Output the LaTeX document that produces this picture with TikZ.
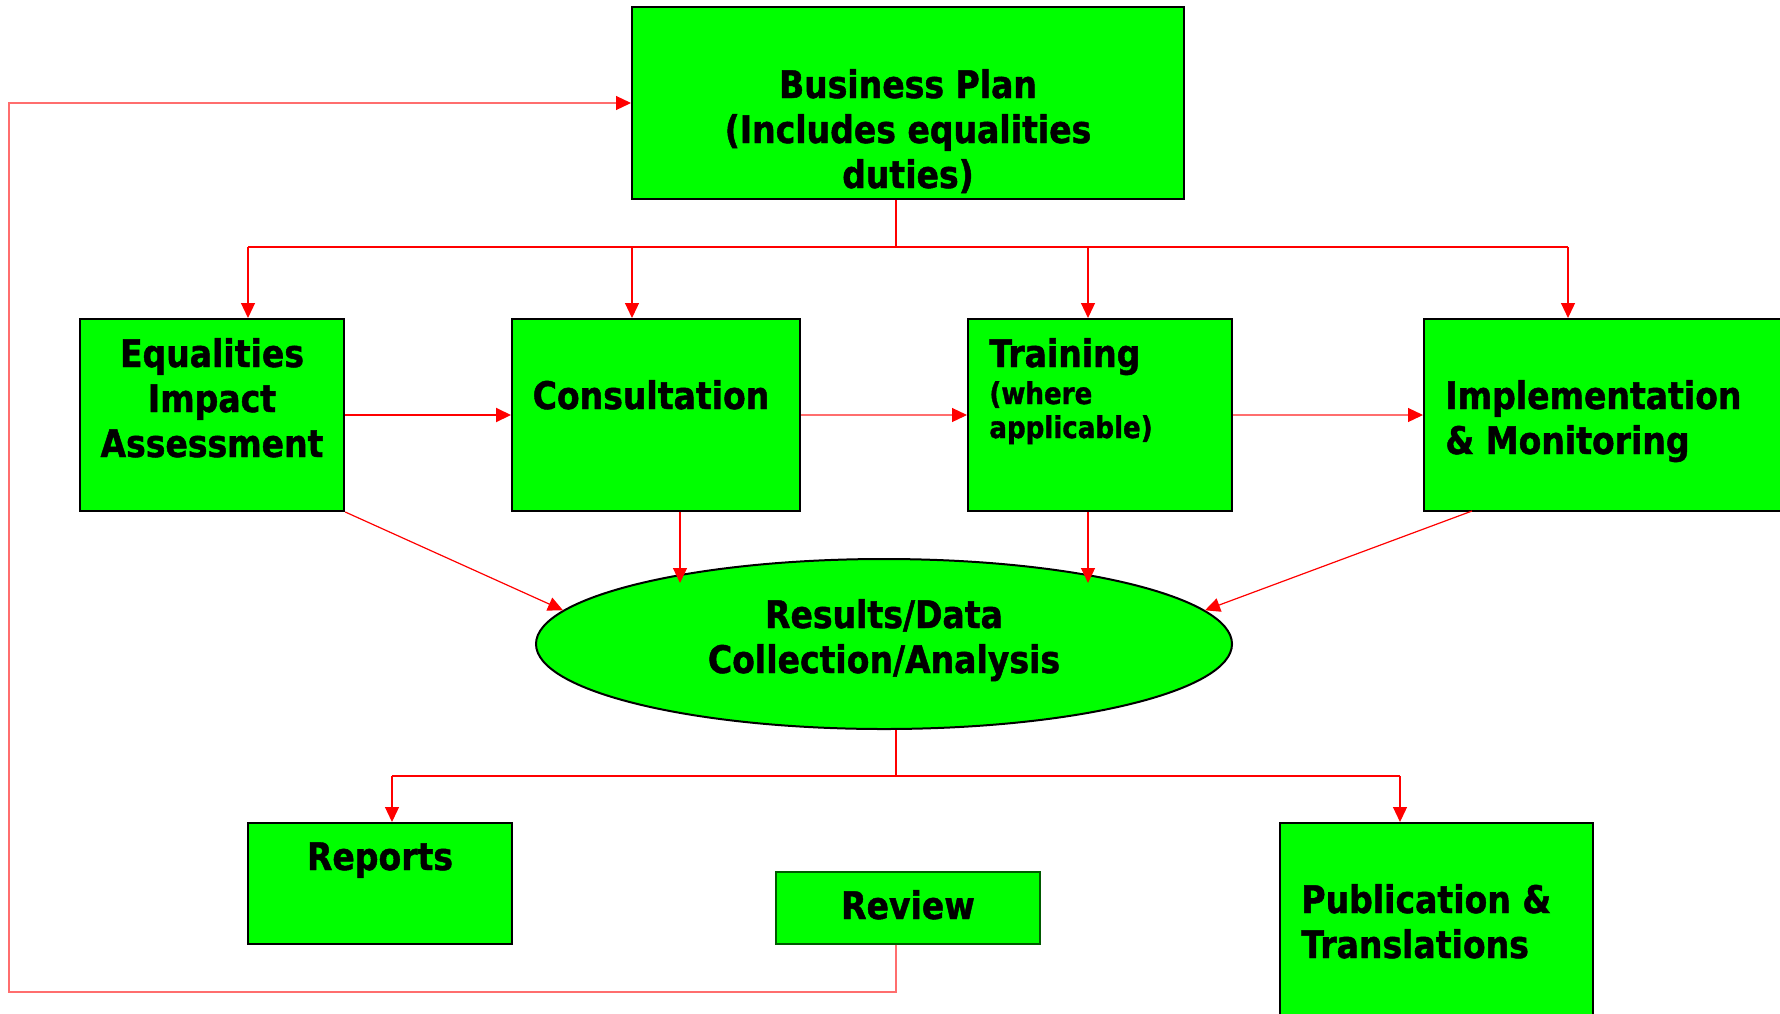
\documentclass[tikz,border=0pt]{standalone}
\usepackage{fontspec}
\setmainfont{DejaVu Sans}[FakeStretch=0.87,BoldFeatures={FakeBold=1.2}]
\usetikzlibrary{arrows.meta,shapes.geometric}
\definecolor{gfill}{RGB}{0,255,0}
\definecolor{lred}{RGB}{255,110,110}
\definecolor{dgreen}{RGB}{0,90,0}
\newcommand{\mlc}[1]{\begin{tabular}[t]{@{}c@{}}#1\end{tabular}}
\newcommand{\mll}[1]{\begin{tabular}[t]{@{}l@{}}#1\end{tabular}}
\begin{document}
\begin{tikzpicture}[x=0.5pt,y=-0.5pt,
  gbox/.style={draw=black,line width=1pt,fill=gfill,rectangle,inner sep=0pt},
  big/.style={font=\fontsize{19}{22.5}\selectfont\bfseries,inner sep=0pt},
  small/.style={font=\fontsize{15}{17}\selectfont\bfseries,inner sep=0pt},
  ln/.style={draw=red,line width=0.6pt},
  lnb/.style={draw=red,line width=1pt},
  lnp/.style={draw=lred,line width=0.6pt},
  tip/.style={-{Triangle[length=7.5pt,width=7pt,color=red]}},
]
\useasboundingbox (0,0) rectangle (1780,1013);
\clip (0,0) rectangle (1780,1013);

% boxes
\node[gbox,minimum width=276pt,minimum height=96pt] (bp) at (908,103) {};
\node[gbox,minimum width=132.25pt,minimum height=96pt] (eia) at (212,415) {};
\node[gbox,minimum width=144pt,minimum height=96pt] (con) at (656,415) {};
\node[gbox,minimum width=132pt,minimum height=96pt] (tra) at (1100,415) {};
\node[gbox,minimum width=208pt,minimum height=96pt] (imp) at (1632,415) {};
\node[draw=black,line width=1pt,fill=gfill,ellipse,inner sep=0pt,minimum width=348pt,minimum height=85pt] (res) at (884,644) {};
\node[gbox,minimum width=131.7pt,minimum height=60.5pt] (rep) at (380,883.5) {};
\node[gbox,draw=dgreen,line width=0.7pt,minimum width=132pt,minimum height=36pt] (rev) at (908,908) {};
\node[gbox,minimum width=156.5pt,minimum height=118.5pt] (pub) at (1436.5,941.5) {};

% top bus
\coordinate (j1) at (896,247);
\coordinate (a1) at (248,247);
\coordinate (a2) at (632,247);
\coordinate (a3) at (1088,247);
\coordinate (a4) at (1568,247);
\draw[ln] (bp.south -| j1) -- (j1);
\draw[lnb] (a1) -- (a4);
\draw[ln,tip] (a1) -- (a1 |- eia.north);
\draw[ln,tip] (a2) -- (a2 |- con.north);
\draw[ln,tip] (a3) -- (a3 |- tra.north);
\draw[ln,tip] (a4) -- (a4 |- imp.north);

% horizontal arrows
\draw[lnb,tip] (eia.east) -- (con.west);
\draw[lnp,tip] (con.east) -- (tra.west);
\draw[lnp,tip] (tra.east) -- (imp.west);

% into results
\coordinate (c1) at (680,583);
\coordinate (c2) at (1088,583);
\coordinate (i1) at (1472,511);
\draw[ln,tip] (eia.south east) -- (res.174);
\draw[ln,tip] (con.south -| c1) -- (c1);
\draw[ln,tip] (tra.south -| c2) -- (c2);
\draw[ln,tip] (i1) -- (res.6.5);

% bottom bus
\coordinate (j2) at (896,776);
\coordinate (b1) at (392,776);
\coordinate (b2) at (1400,776);
\draw[ln] (res.south -| j2) -- (j2);
\draw[lnb] (b1) -- (b2);
\draw[ln,tip] (b1) -- (b1 |- rep.north);
\draw[ln,tip] (b2) -- (b2 |- pub.north);

% review loop
\coordinate (l1) at (896,992);
\coordinate (l2) at (9,992);
\draw[lnp,tip] (rev.south -| l1) -- (l1) -- (l2) |- (bp.west);

% texts
\node[big,anchor=base] (tbp) at (908,98) {\mlc{Business Plan\\(Includes equalities\\duties)}};
\node[big,anchor=base] (teia) at (212,367) {\mlc{Equalities\\Impact\\Assessment}};
\node[big,anchor=base] (tcon) at (651,409) {Consultation};
\node[big,anchor=base west] (ttra) at (989,367) {Training};
\node[small,anchor=base west] (ttra2) at (989,404) {\mll{(where\\applicable)}};
\node[big,anchor=base west] (timp) at (1445,409) {\mll{Implementation\\\& Monitoring}};
\node[big,anchor=base] (tres) at (884,628) {\mlc{Results/Data\\Collection/Analysis}};
\node[big,anchor=base] (trep) at (380,870) {Reports};
\node[big,anchor=base] (trev) at (908,919) {Review};
\node[big,anchor=base west] (tpub) at (1301,913) {\mll{Publication \&\\Translations}};
\end{tikzpicture}
\end{document}
